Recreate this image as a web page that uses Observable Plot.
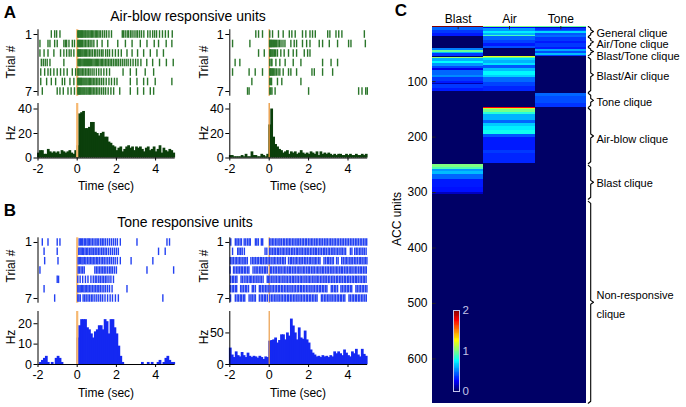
<!DOCTYPE html>
<html><head><meta charset="utf-8">
<script src="https://cdn.jsdelivr.net/npm/d3@7"></script>
<script src="https://cdn.jsdelivr.net/npm/@observablehq/plot@0.6"></script>
<style>
body{margin:0;background:#fff;}
#fig{position:relative;width:686px;height:407px;font-family:"Liberation Sans",Arial,sans-serif;color:#000;overflow:hidden;background:#fff}
#fig svg{position:absolute;overflow:visible}
.lbl{position:absolute;white-space:nowrap;font-size:12px;line-height:1}
</style></head><body><div id="fig"></div><script>
// ---------------- DATA ----------------
const timeTicks = [-2, 0, 2, 4];
const binStart = -2, binWidth = 0.1;

// Panel A – air-blow responsive units: spike times (s) per trial
const airLeftTrials = [
 [-1.32,-1.15,-1.05,-0.88,0.03,0.07,0.1,0.14,0.18,0.22,0.26,0.3,0.35,0.4,0.44,0.5,0.55,0.6,0.66,0.72,0.78,0.85,0.92,0.98,1.05,1.12,1.2,1.3,1.4,1.5,1.62,1.75,2.3,2.36,2.45,2.55,2.62,2.72,2.8,2.9,3.0,3.08,3.18,3.28,3.4,3.6,3.72,3.85,3.95,4.05,4.2,4.35,4.5,4.65,4.85],
 [-1.9,-1.49,-1.39,-1.15,-1.02,-0.68,-0.6,-0.54,-0.42,-0.25,-0.14,0.03,0.08,0.12,0.17,0.22,0.28,0.35,0.42,0.5,0.58,0.66,0.75,0.85,1.02,1.27,1.56,2.07,2.46,2.8,3.22,3.56,3.93,4.15,4.54,4.83],
 [-1.9,-1.69,-1.49,-1.19,-0.85,-0.68,-0.54,-0.41,-0.31,-0.17,0.03,0.07,0.11,0.16,0.2,0.25,0.3,0.36,0.42,0.48,0.55,0.62,0.7,0.78,0.88,0.95,1.05,1.15,1.25,1.32,1.45,1.55,1.65,1.8,1.95,2.1,2.25,2.54,2.8,3.08,3.39,3.73,4.07,4.4],
 [-1.83,-1.73,-1.63,-1.53,-1.39,-0.68,0.04,0.08,0.12,0.16,0.2,0.25,0.3,0.34,0.38,0.43,0.48,0.53,0.58,0.63,0.68,0.74,0.8,0.86,0.92,0.98,1.04,1.1,1.17,1.24,1.3,1.37,1.45,1.52,1.6,1.68,1.76,1.85,1.94,2.02,2.1,2.2,2.3,2.4,2.5,2.6,2.72,2.85,2.98,3.1,3.25,3.55,3.85,4.2,4.55,4.9],
 [-1.86,-1.66,-1.49,-1.36,-1.19,-1.02,-0.85,-0.68,-0.51,-0.25,-0.08,0.03,0.08,0.14,0.2,0.27,0.34,0.42,0.5,0.58,0.66,0.76,0.86,0.98,1.1,1.22,1.36,1.5,1.65,2.34,2.71,3.02,3.47,3.9],
 [-1.86,-1.56,-1.32,-1.1,-0.76,-0.64,-0.37,-0.17,0.03,0.06,0.1,0.13,0.17,0.21,0.25,0.3,0.35,0.4,0.45,0.5,0.56,0.62,0.68,0.75,0.82,0.9,0.98,1.06,1.15,1.25,1.35,1.48,1.62,1.75,1.9,2.03,2.71,3.05,3.39,3.59,3.98,4.83],
 [-1.78,-1.02,-0.88,-0.71,-0.47,-0.31,-0.14,0.03,0.07,0.11,0.15,0.19,0.24,0.29,0.34,0.39,0.45,0.5,0.56,0.62,0.68,0.75,0.82,0.9,0.98,1.06,1.15,1.25,1.35,1.45,1.58,1.72,1.86,2.17,2.71,3.08,3.39,3.73,3.9]
];
const airRightTrials = [
 [-0.68,-0.54,-0.34,0.03,0.17,0.47,0.71,1.02,1.15,1.32,1.69,1.86,2.07,2.2,2.34,2.97,3.08,3.39,3.53,3.69,4.83],
 [-1.86,-0.98,0.02,0.05,0.08,0.11,0.14,0.18,0.22,0.27,0.32,0.38,0.45,0.52,0.6,0.7,0.8,1.1,1.27,1.39,1.69,1.9,2.07,2.54,2.71,3.05,3.47,4.03,4.15,4.88],
 [-0.54,-0.25,0.03,0.06,0.1,0.15,0.2,0.26,0.33,0.42,0.59,0.76,0.98,1.22,1.39,1.78,1.95,2.07],
 [-1.73,-1.49,0.03,0.1,0.14,0.34,0.54,0.81,1.22,1.61,2.71,3.14,3.47],
 [-1.86,-1.02,-0.71,-0.34,0.03,0.06,0.1,0.14,0.18,0.23,0.29,0.36,0.45,0.54,0.71,0.98,1.1,1.39,2.17,2.29,2.71,3.22],
 [-0.88,0.03,0.08,0.12,0.42,0.64,1.61],
 [-1.1,-1.02,0.03,0.08,0.14,0.3,2.0,4.54,4.71,4.9,4.98]
];
// PSTH firing rates (Hz), 0.1 s bins from -2 to 5 s
const airLeftRate = [4,6,6,3,3,7,5,4,5,4,5,3,6,5,4,5,6,4,3,6, 10,36,37,38,24,24,25,29,29,21, 20,18,20,21,17,17,13,12,10,9, 6,8,9,5,7,9,10,8,9,6, 9,8,9,7,5,8,9,6,7,9, 5,7,10,4,8,6,5,7,6,4];
const airRightRate = [2,2,1,1,1,1,2,1,3,1,1,5,2,2,1,1,3,2,1,3, 27,40,17,11,9,7,6,4,5,6, 3,5,4,5,3,4,6,4,3,4, 3,5,4,3,5,2,5,3,4,3, 4,3,2,3,2,3,3,2,2,3, 2,3,2,2,3,2,2,3,2,3];

// Panel B – tone responsive units
const toneLeftTrials = [
 [-1.78,-1.49,-1.02,-0.88,0.1,0.16,0.22,0.28,0.36,0.42,0.5,0.56,0.62,0.7,0.78,0.86,0.95,1.02,1.1,1.2,1.28,1.36,1.45,1.55,1.65,1.75,1.85,1.95,2.05,2.2,3.05,4.58,4.71],
 [-1.69,-1.02,0.08,0.14,0.2,0.26,0.32,0.4,0.47,0.54,0.62,0.7,0.76,0.84,0.92,1.0,1.08,1.16,1.25,1.33,1.42,1.5,1.6,1.7,1.8,1.9,2.0,2.1,4.15,4.49],
 [-1.66,-0.98,0.05,0.11,0.17,0.24,0.3,0.37,0.44,0.52,0.6,0.67,0.75,0.82,0.9,0.98,1.05,1.13,1.22,1.3,1.38,1.47,1.56,1.65,1.74,1.84,1.94,2.05,2.2,2.75,3.86],
 [-1.9,0.05,0.12,0.2,0.28,0.36,0.9,0.98,1.06,1.14,1.22,1.3,1.38,1.46,1.55,1.64,1.72,1.8,1.9,2.0,3.56,4.92],
 [-1.02,-0.95,0.03,0.15,0.28,0.42,0.55,0.7,0.82,0.92,1.0,1.1,1.18,1.27,1.35,1.44,1.52,1.62,1.72,1.85],
 [-1.69,0.03,0.09,0.15,0.21,0.27,0.34,0.41,0.48,0.55,0.62,0.7,0.78,0.86,0.94,1.02,1.1,1.18,1.27,1.36,1.45,1.55,1.65,1.78,2.54],
 [-1.15,0.03,0.09,0.16,0.3,0.38,0.46,0.55,0.63,0.72,0.8,0.9,1.0,1.1,1.2,1.3,1.42,1.55,1.68,1.8,1.95,2.1,4.37]
];
const toneRightTrials = [
 [-1.95,-1.72,-1.64,-1.57,-1.48,-1.41,-1.27,-1.19,-1.1,-1.02,-0.96,-0.7,-0.63,-0.55,-0.4,-0.33,0.02,0.09,0.17,0.24,0.33,0.4,0.49,0.55,0.63,0.72,0.79,0.88,0.95,1.03,1.1,1.19,1.26,1.35,1.42,1.5,1.58,1.67,1.74,1.83,1.9,1.99,2.07,2.15,2.22,2.31,2.39,2.47,2.56,2.63,2.71,2.8,2.88,2.95,3.04,3.12,3.2,3.29,3.36,3.45,3.53,3.62,3.7,3.78,3.87,3.95,4.03,4.12,4.2,4.28,4.37,4.45,4.53,4.62,4.7,4.79,4.87,4.95],
 [-1.86,-1.6,-1.53,-1.45,-1.37,-1.26,-0.21,-0.12,0.02,0.09,0.17,0.25,0.32,0.41,0.48,0.56,0.65,0.72,0.8,0.89,0.96,1.04,1.13,1.2,1.28,1.37,1.44,1.52,1.61,1.68,1.77,1.85,1.93,2.01,2.1,2.17,2.26,2.34,2.41,2.5,2.58,2.66,2.75,2.82,2.9,2.99,3.06,3.15,3.23,3.3,3.39,3.47,3.55,3.64,3.71,3.8,3.88,4.12,4.2,4.34,4.42,4.5,4.59,4.66,4.75,4.83,4.92],
 [-1.97,-1.89,-1.82,-1.73,-1.66,-1.58,-1.5,-1.43,-1.34,-1.27,-1.19,-1.11,-0.93,-0.84,-0.77,-0.69,-0.61,-0.54,-0.45,-0.38,-0.3,-0.21,-0.14,-0.06,0.02,0.1,0.19,0.26,0.34,0.43,0.5,0.58,0.67,0.74,0.82,0.98,1.07,1.14,1.22,1.31,1.38,1.46,1.55,1.62,1.7,1.79,1.86,1.94,2.03,2.1,2.18,2.27,2.34,2.42,2.51,2.58,2.78,2.86,2.95,3.02,3.1,3.19,3.26,3.42,3.5,3.68,3.76,3.85,3.92,4.0,4.09,4.16,4.24,4.33,4.4,4.48,4.57,4.64,4.72,4.81,4.88,4.96],
 [-1.98,-1.81,-1.74,-1.65,-1.58,-1.5,-1.42,-1.35,-1.26,-1.19,-1.1,-1.03,-0.82,-0.73,-0.66,-0.58,-0.49,-0.42,-0.34,-0.25,-0.18,-0.1,0.06,0.13,0.22,0.3,0.37,0.46,0.54,0.61,0.7,0.78,0.85,0.94,1.02,1.09,1.18,1.26,1.33,1.42,1.5,1.57,1.66,1.74,1.81,1.9,1.98,2.05,2.14,2.22,2.29,2.38,2.46,2.53,2.62,2.7,2.77,2.86,2.94,3.01,3.1,3.18,3.25,3.34,3.42,3.49,3.58,3.66,3.73,3.82,3.9,3.97,4.06,4.14,4.21,4.3,4.38,4.45,4.54,4.62,4.69,4.78,4.86,4.93],
 [-1.96,-1.87,-1.8,-1.71,-1.64,-1.43,-1.36,-1.27,-1.18,-1.11,-1.02,-0.95,-0.88,-0.79,-0.72,-0.63,-0.56,-0.47,-0.4,-0.31,-0.1,-0.03,0.04,0.13,0.2,0.29,0.36,0.45,0.52,0.6,0.69,0.76,0.85,0.92,1.01,1.08,1.17,1.24,1.32,1.41,1.48,1.57,1.64,1.72,1.81,1.88,1.97,2.04,2.12,2.21,2.28,2.37,2.44,2.52,2.61,2.68,2.77,2.84,2.92,3.01,3.08,3.17,3.24,3.32,3.41,3.48,3.57,3.64,3.72,3.81,3.88,3.97,4.04,4.12,4.21,4.28,4.37,4.44,4.52,4.61,4.68,4.77,4.84,4.92],
 [-1.97,-1.88,-1.81,-1.72,-1.65,-1.45,-1.38,-1.3,-1.21,-1.14,-1.05,-0.86,-0.79,-0.7,-0.5,-0.43,-0.34,-0.27,-0.18,-0.11,-0.02,0.05,0.14,0.21,0.3,0.37,0.46,0.53,0.62,0.69,0.78,0.85,0.94,1.01,1.1,1.17,1.26,1.33,1.42,1.49,1.58,1.65,1.74,1.81,1.9,1.97,2.06,2.13,2.22,2.29,2.38,2.45,2.54,2.61,2.7,2.77,2.86,2.93,3.15,3.22,3.31,3.38,3.47,3.64,3.71,3.8,3.87,3.96,4.03,4.12,4.19,4.4,4.47,4.56,4.63,4.72,4.79,4.88,4.96],
 [-1.96,-1.72,-1.63,-1.56,-1.47,-1.4,-1.31,-1.24,-1.02,-0.93,-0.86,-0.77,-0.7,-0.5,-0.41,-0.34,-0.25,-0.18,-0.09,0.03,0.12,0.19,0.28,0.35,0.44,0.51,0.6,0.67,0.76,0.83,0.92,0.99,1.08,1.15,1.24,1.31,1.4,1.47,1.56,1.63,1.72,1.79,1.88,1.95,2.04,2.11,2.2,2.27,2.36,2.43,2.65,2.72,2.81,2.88,2.97,3.04,3.13,3.2,3.29,3.36,3.45,3.52,3.61,3.68,3.77,3.84,4.05,4.12,4.21,4.28,4.37,4.44,4.53,4.6,4.69,4.76,4.85,4.93]
];
const toneLeftRate = [0,1,2,3,4,1,0,1,0,3,4,3,1,0,0,0,0,0,0,0, 13,19,22,22,22,18,17,15,13,16, 17,19,19,17,22,21,15,22,22,18, 15,9,4,1,0,0,0,0,0,0, 0,0,0,1,0,0,1,0,1,0, 0,1,2,0,1,3,4,2,1,1];
const toneRightRate = [26,15,11,20,14,12,19,14,11,18,13,11,13,12,10,13,11,8,12,11, 37,38,39,42,34,38,47,47,39,50, 45,72,61,50,39,58,42,40,53,39, 34,23,18,15,12,13,11,14,12,13, 11,14,12,20,17,20,17,14,23,18, 14,12,20,17,24,15,12,24,16,13];

// Panel C – normalized responses of ACC units (bands: [firstUnit, lastUnit, value])
const conditions = ["Blast", "Air", "Tone"];
const unitCount = 680;
const unitTicks = [100, 200, 300, 400, 500, 600];
const blastBands = [[0.5,3,2.0],[3,8,0.45],[8,14,0.36],[14,18.5,0.3],[40,43,0.5],[43,47,0.95],[47,50,0.62],[50,54,0.36],[56,59,1.05],[59,63,0.6],[63,68,0.75],[68,72,0.55],[72,76,0.4],[76,80,0.22],[80,88,0.45],[88,92,0.52],[92,100,0.36],[100,104,0.3],[104,106,0.12],[106,112,0.36],[112,118,0.3],[250,254,1.0],[254,258,0.9],[258,262,0.55],[262,268,0.62],[268,276,0.45],[276,290,0.3],[290,300,0.28],[300,303,0.15]];
const airBands = [[0.5,3,1.0],[3,5,0.25],[5,10,0.55],[10,14,0.72],[14,17,0.6],[17,19,0.88],[19,25,0.45],[25,31,0.38],[31,36,0.3],[36,41,0.4],[54,56,1.2],[56,58,0.95],[58,62,0.68],[62,67,0.6],[67,71,0.7],[71,77,0.42],[77,81,0.62],[81,88,0.74],[88,93,0.66],[93,101,0.46],[101,109,0.38],[109,117,0.32],[147,148.5,1.75],[148.5,151,1.15],[151,155,0.98],[155,160,0.82],[160,170,0.6],[170,175,0.45],[175,181,0.65],[181,188,0.72],[188,196,0.78],[196,200,0.42],[200,224,0.3],[224,230,0.36],[230,248,0.32]];
const toneBands = [[0.5,2.5,0.95],[2.5,4,0.15],[4,8,0.35],[8,10,0.42],[10,13,0.68],[13,16,0.42],[16,21,0.46],[21,27,0.36],[27,32,0.3],[32,38,0.36],[38,42,0.3],[42,45,0.58],[45,49,0.4],[49,52,0.62],[52,55,0.36],[122,127,0.45],[127,140,0.4],[140,146,0.35]];
const cliqueNames = ["General clique","Air/Tone clique","Blast/Tone clique","Blast/Air clique","Tone clique","Air-blow clique","Blast clique","Non-responsive\nclique"];
const cliqueStart = [0.5, 20, 38.5, 56, 121, 148, 251, 316];
const cliqueEnd   = [18.5, 36.5, 53, 119.5, 146.5, 248, 312, 680];
const cliqueLabelUnit = [8.5, 28.5, 49, 85, 133, 199, 279, 498];
const colorTicks = [0, 1, 2];

// ---------------- DRAWING ----------------
const fig = document.getElementById("fig");
const FONT = "'Liberation Sans', Arial, Helvetica, sans-serif";
const baseStyle = {fontFamily: FONT, fontSize: "12px", background: "transparent", overflow: "visible"};
const fmt = d => d < 0 ? "-" + (-d) : String(d);

function place(svg, left, top) {
  svg.style.left = left + "px"; svg.style.top = top + "px";
  fig.appendChild(svg);
}
function label(text, x, y, o = {}) {
  const d = document.createElement("div");
  d.className = "lbl"; d.textContent = text;
  d.style.left = x + "px"; d.style.top = y + "px";
  d.style.fontSize = (o.size || 12) + "px";
  if (o.bold) d.style.fontWeight = "bold";
  d.style.transform = "translate(-50%,-50%)" + (o.rotate ? " rotate(-90deg)" : "");
  fig.appendChild(d);
}

function raster(trials, color, orange, ow, left, top, yTop, yBot) {
  const height = 82;
  const spikes = trials.flatMap((r, i) => r.map(t => ({t, trial: i + 1})));
  const svg = Plot.plot({
    width: 185, height,
    marginLeft: left === 0 ? 37.5 : 37.3, marginRight: left === 0 ? 10.3 : 9.8,
    marginTop: yTop - top, marginBottom: top + height - yBot,
    style: baseStyle,
    x: {domain: [-2, 5], axis: null},
    y: {domain: [0.5, 7.5], reverse: true, axis: null},
    marks: [
      Plot.ruleX([0], {stroke: orange, strokeWidth: ow}),
      Plot.ruleX(spikes, {x: "t", y1: d => d.trial - 0.4, y2: d => d.trial + 0.4, stroke: color, strokeWidth: 1.4}),
      Plot.ruleX([-2], {stroke: "#000", strokeWidth: 1}),
      Plot.axisY({ticks: [1, 7], tickFormat: fmt, tickSize: 4, tickPadding: 2, fontSize: 12.5, label: null})
    ]
  });
  place(svg, left, top);
}

function psth(rates, yMax, yTicks, fill, orange, ow, left, top, yZero, yTopPx) {
  const height = 90;
  const bars = rates.map((v, i) => ({x1: binStart + i * binWidth, x2: binStart + (i + 1) * binWidth, v}));
  const svg = Plot.plot({
    width: 185, height,
    marginLeft: left === 0 ? 37.5 : 37.3, marginRight: left === 0 ? 10.3 : 9.8,
    marginTop: yTopPx - top, marginBottom: top + height - yZero,
    style: baseStyle,
    x: {domain: [-2, 5]},
    y: {domain: [0, yMax]},
    marks: [
      Plot.rectY(bars, {x1: "x1", x2: "x2", y: "v", fill, insetLeft: -0.4, insetRight: -0.4}),
      Plot.ruleX([0], {stroke: orange, strokeWidth: ow}),
      Plot.ruleX([-2], {stroke: "#000"}),
      Plot.ruleY([0], {stroke: "#000"}),
      Plot.axisX({ticks: timeTicks, tickSize: 3, tickPadding: 3, fontSize: 12.5, tickFormat: fmt, label: null}),
      Plot.axisY({ticks: yTicks, tickFormat: fmt, tickSize: 4, tickPadding: 2, fontSize: 12.5, label: null})
    ]
  });
  place(svg, left, top);
}

const greenTick = "#2b762b", greenBar = "#0b3f0b";
const blueTick = "#2341f2", blueBar = "#1428f2";
const orangeWide = "#f6b871", orangeThin = "#e8953a";

raster(airLeftTrials, greenTick, orangeWide, 2.2, 0, 20, 29.25, 95.75);
raster(airRightTrials, greenTick, orangeThin, 1.3, 192, 20, 29.25, 95.75);
psth(airLeftRate, 44.5, [0, 20, 40], greenBar, orangeWide, 2.2, 0, 100, 157.5, 103);
psth(airRightRate, 44.5, [0, 20, 40], greenBar, orangeThin, 1.3, 192, 100, 157.5, 103);

raster(toneLeftTrials, blueTick, orangeWide, 2.2, 0, 228, 237.3, 302.7);
raster(toneRightTrials, blueTick, orangeThin, 1.1, 192, 228, 237.3, 302.7);
psth(toneLeftRate, 26, [0, 10, 20], blueBar, orangeWide, 2.2, 0, 305, 364, 311);
psth(toneRightRate, 84, [0, 50], blueBar, orangeThin, 1.1, 192, 305, 364, 311);

// jet-like colour map (0..2)
const colorScale = {type: "linear", domain: [0, 0.25, 0.75, 1.25, 1.75, 2],
  range: ["#000066", "#0000ff", "#00ffff", "#ffff00", "#ff0000", "#800000"], interpolate: "rgb"};

// Heat map
const cells = [
  ...conditions.map((c, i) => ({col: i, y1: 0.5, y2: unitCount + 0.5, v: 0})),
  ...[blastBands, airBands, toneBands].flatMap((bands, i) => bands.map(([a, b, v]) => ({col: i, y1: a, y2: b, v})))
];
const pxPerCol = 154 / 3;
const hookX = 3 + 1.8 / pxPerCol, spineX = 3 + 4.2 / pxPerCol, tipX = 3 + 7 / pxPerCol, textX = 3 + 10 / pxPerCol;
const braces = cliqueNames.flatMap((name, i) => {
  const a = cliqueStart[i], b = cliqueEnd[i], m = (a + b) / 2, h = Math.min(3.5, (b - a) / 6);
  return [[hookX, a], [spineX, a + h], [spineX, m - h], [tipX, m], [spineX, m + h], [spineX, b - h], [hookX, b]]
    .map(([x, y]) => ({x, y, name}));
});
const cliqueLabels = cliqueNames.map((name, i) => ({name, y: cliqueLabelUnit[i]}));

const heat = Plot.plot({
  width: 306, height: 407,
  marginLeft: 52, marginRight: 100, marginTop: 26, marginBottom: 4,
  style: baseStyle,
  x: {domain: [0, 3]},
  y: {domain: [0.5, unitCount + 0.5], reverse: true},
  color: colorScale,
  marks: [
    Plot.rect(cells, {x1: "col", x2: d => d.col + 1, y1: "y1", y2: "y2", fill: "v", shapeRendering: "crispEdges"}),
    Plot.ruleX([0.5, 1.5, 2.5], {y1: 0.5, y2: 6.5, stroke: "#222", strokeWidth: 1}),
    Plot.ruleY(unitTicks, {x1: 0, x2: 0.07, stroke: "#222", strokeWidth: 1}),
    Plot.axisX({anchor: "top", ticks: [0.5, 1.5, 2.5], tickFormat: d => conditions[Math.floor(d)], tickSize: 0, tickPadding: 4, fontSize: 12, label: null}),
    Plot.axisY({ticks: unitTicks, tickFormat: fmt, tickSize: 0, tickPadding: 5, fontSize: 12, label: null}),
    Plot.line(braces, {x: "x", y: "y", z: "name", stroke: "#000", strokeWidth: 1.1}),
    Plot.text(cliqueLabels, {x: textX, y: "y", text: "name", textAnchor: "start", fontSize: 11, lineHeight: 1.75, fill: "#000"})
  ]
});
place(heat, 380, 0);

// colour bar
const cbSteps = d3.range(0, 2, 0.02);
const cbar = Plot.plot({
  width: 50, height: 100,
  marginLeft: 13, marginRight: 31, marginTop: 10, marginBottom: 9,
  style: baseStyle,
  x: {domain: [0, 1], axis: null},
  y: {domain: [0, 2]},
  color: colorScale,
  marks: [
    Plot.rect(cbSteps, {x1: 0, x2: 1, y1: d => d, y2: d => d + 0.021, fill: d => d + 0.01, shapeRendering: "crispEdges"}),
    Plot.frame({stroke: "#c4c4ec", strokeWidth: 1}),
    Plot.axisY({anchor: "right", ticks: colorTicks, tickFormat: fmt, tickSize: 0, tickPadding: 3, fontSize: 11.5, color: "#c4c4e8", label: null})
  ]
});
place(cbar, 440, 300);

// text labels
label("A", 10, 12, {size: 17, bold: true});
label("B", 10, 210, {size: 17, bold: true});
label("C", 401, 10, {size: 17, bold: true});
label("Air-blow responsive units", 188, 16, {size: 14});
label("Tone responsive units", 185, 222, {size: 14});
for (const x of [11, 204]) {
  label("Trial #", x, 62, {rotate: true});
  label("Hz", x, 133, {rotate: true});
  label("Trial #", x, 266, {rotate: true});
  label("Hz", x, 337, {rotate: true});
}
for (const x of [106, 298]) {
  label("Time (sec)", x, 186);
  label("Time (sec)", x, 393);
}
label("ACC units", 397, 219, {rotate: true});
</script></body></html>
